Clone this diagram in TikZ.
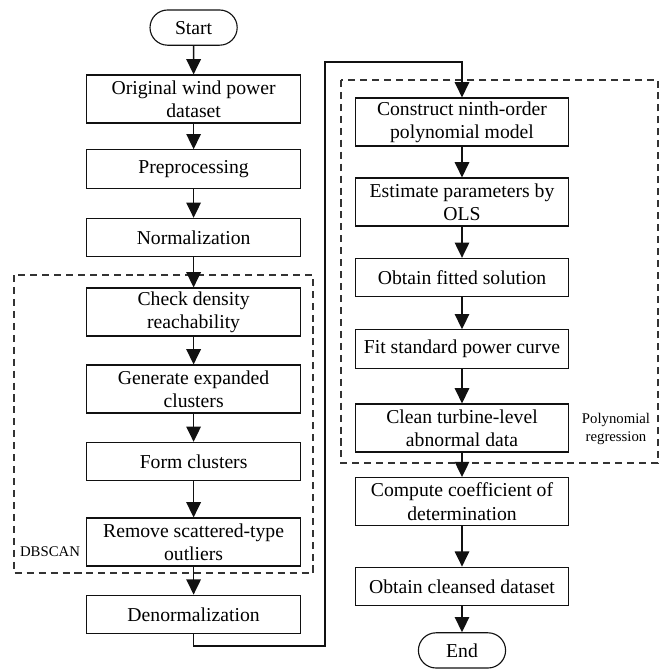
\documentclass[tikz,border=0pt]{standalone}
\usepackage{fontspec}
\setmainfont{Liberation Serif}
\usepackage{tikz}
\usetikzlibrary{positioning, arrows.meta, shapes.misc}
\definecolor{flowBlack}{HTML}{111111}
\definecolor{groupGray}{HTML}{333333}
\definecolor{softGray}{HTML}{8A8A8A}

\begin{document}
\begin{tikzpicture}[
  every node/.style={font=\fontsize{14}{16.5}\selectfont},
  stepbox/.style={
    rectangle, draw=#1, line width=0.8pt,
    minimum width=5.34cm, minimum height=0.96cm,
    inner sep=1pt, align=center, text=black
  },
  stepbox/.default=flowBlack,
  tallbox/.style={stepbox, minimum height=1.2cm},
  terminal/.style={
    rounded rectangle, draw=flowBlack, line width=0.8pt,
    minimum width=2.25cm, minimum height=0.88cm, inner sep=1pt
  },
  flow/.style={
    draw=flowBlack, line width=1.1pt,
    -{Triangle[length=0.38cm, width=0.36cm]}
  },
  groupbox/.style={
    draw=groupGray, line width=0.8pt,
    dash pattern=on 5pt off 3.5pt
  },
  grouplabel/.style={
    font=\fontsize{10.5}{13}\selectfont, align=center
  },
]
\useasboundingbox (0,0) rectangle (16.55,-16.75);

% === GROUP FRAMES ===
\draw[groupbox] (0.35,-6.875) rectangle (7.825,-14.325);
\draw[groupbox] (8.525,-2.0) rectangle (16.45,-11.575);
\node[grouplabel] (dblabel) at (1.25,-13.8) {DBSCAN};
\node[grouplabel] (polylabel) at (15.4,-10.72) {Polynomial\\regression};

% === LEFT COLUMN ===
\node[terminal] (start) at (4.84,-0.69) {Start};
\node[tallbox] (orig) at (4.84,-2.475) {Original wind power\\dataset};
\node[stepbox] (prep) at (4.84,-4.225) {Preprocessing};
\node[stepbox] (norm) at (4.84,-5.94) {Normalization};
\node[tallbox] (check) at (4.84,-7.8) {Check density\\reachability};
\node[tallbox] (expand) at (4.84,-9.725) {Generate expanded\\clusters};
\node[stepbox] (form) at (4.84,-11.54) {Form clusters};
\node[tallbox=softGray] (remove) at (4.84,-13.55) {Remove scattered-type\\outliers};
\node[stepbox] (denorm) at (4.84,-15.36) {Denormalization};

% === RIGHT COLUMN ===
\node[tallbox] (construct) at (11.55,-3.05) {Construct ninth-order\\polynomial model};
\node[tallbox] (estimate) at (11.55,-5.05) {Estimate parameters by\\OLS};
\node[stepbox] (fitted) at (11.55,-6.94) {Obtain fitted solution};
\node[stepbox] (curve) at (11.55,-8.725) {Fit standard power curve};
\node[tallbox] (clean) at (11.55,-10.7) {Clean turbine-level\\abnormal data};
\node[tallbox] (coef) at (11.55,-12.54) {Compute coefficient of\\determination};
\node[stepbox] (cleansed) at (11.55,-14.66) {Obtain cleansed dataset};
\node[terminal] (end) at (11.55,-16.26) {End};

% === CONNECTORS ===
\foreach \a/\b in {start/orig, orig/prep, prep/norm, norm/check, check/expand,
                   expand/form, form/remove, remove/denorm,
                   construct/estimate, estimate/fitted, fitted/curve, curve/clean,
                   clean/coef, coef/cleansed, cleansed/end}
  \draw[flow] (\a) -- (\b);

% bridge between the two columns
\coordinate (bendlow) at (8.125,-16.15);
\coordinate (bendhigh) at (8.125,-1.55);
\draw[flow] (denorm.south) |- (bendlow) |- (bendhigh) -| (construct.north);

\end{tikzpicture}
\end{document}
